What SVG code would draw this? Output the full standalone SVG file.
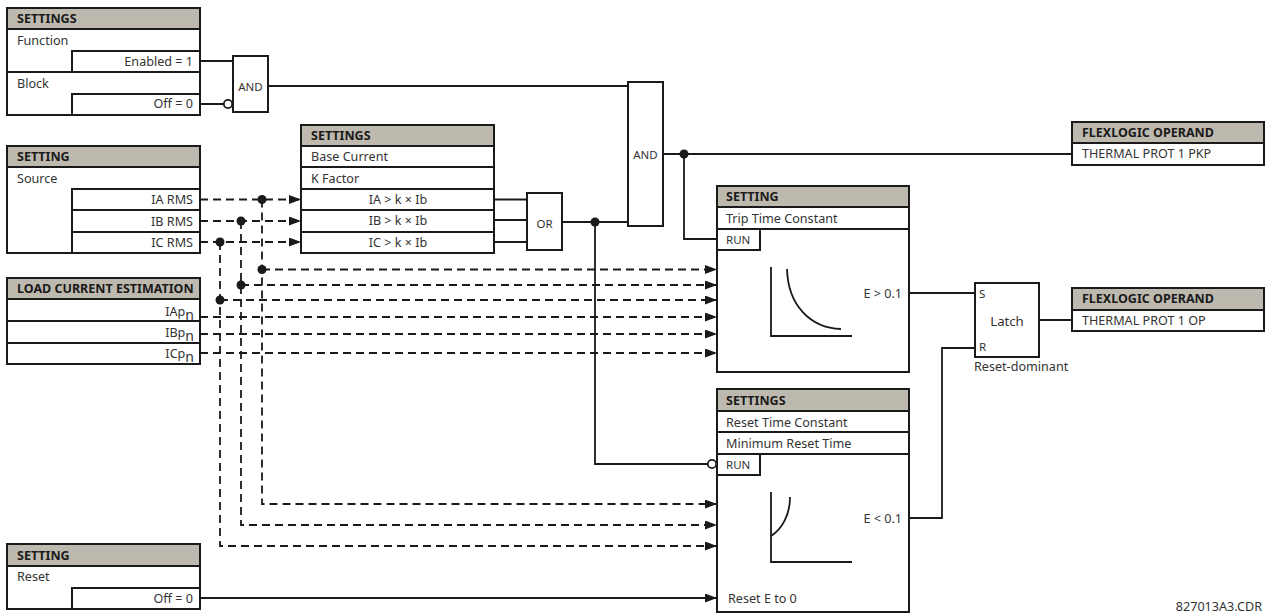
<svg xmlns="http://www.w3.org/2000/svg" width="1265" height="615" viewBox="0 0 1265 615">
<style>
text{font-family:"Noto Sans","Open Sans",sans-serif;font-size:12.600px;fill:#333}
.h{font-weight:700;fill:#1a1a1a;font-size:12.500px}
.e{text-anchor:end}
.m{text-anchor:middle}
.g{font-size:11.500px}
.l{font-size:13.200px}
.hd{fill:#bdb9ae;stroke:#1a1a1a;stroke-width:2}
.b{fill:#fff;stroke:#1a1a1a;stroke-width:2}
.t{fill:none;stroke:#1a1a1a;stroke-width:2}
.w{fill:none;stroke:#1a1a1a;stroke-width:1.800}
.d{fill:none;stroke:#1a1a1a;stroke-width:1.800;stroke-dasharray:8 5}
.dot{fill:#1a1a1a}
.inv{fill:#fff;stroke:#1a1a1a;stroke-width:1.800}
</style>
<defs>
<marker id="a" markerUnits="userSpaceOnUse" markerWidth="13" markerHeight="10" refX="12" refY="4.500" orient="auto"><path d="M0 0L12 4.500L0 9Z" fill="#1a1a1a"/></marker>
</defs>
<rect width="1265" height="615" fill="#fff"/>
<g id="connectors">
<path class="w" d="M200 61H233M200 104H224M268 86H628"/>
<path class="w" d="M494 199.500H527M494 220H527M494 242H527M562 222H628"/>
<path class="w" d="M595 222V464H708"/>
<path class="w" d="M663 154H1072M684 154V239H717"/>
<path class="w" d="M909 293H975M909 518H942V348H975M1039 320H1072"/>
<path class="w" marker-end="url(#a)" d="M200 598H717"/>
<path class="d" marker-end="url(#a)" d="M200 199.500H301"/>
<path class="d" marker-end="url(#a)" d="M200 221H301"/>
<path class="d" marker-end="url(#a)" d="M200 242H301"/>
<path class="d" marker-end="url(#a)" d="M262 269.500H717"/>
<path class="d" marker-end="url(#a)" d="M241 285H717"/>
<path class="d" marker-end="url(#a)" d="M220 300H717"/>
<path class="d" marker-end="url(#a)" d="M200 317H717"/>
<path class="d" marker-end="url(#a)" d="M200 334H717"/>
<path class="d" marker-end="url(#a)" d="M200 353H717"/>
<path class="d" marker-end="url(#a)" d="M262 199.500V504H717"/>
<path class="d" marker-end="url(#a)" d="M241 221V525H717"/>
<path class="d" marker-end="url(#a)" d="M220 242V546H717"/>
<circle class="dot" cx="262" cy="199.500" r="4.500"/>
<circle class="dot" cx="241" cy="221" r="4.500"/>
<circle class="dot" cx="220" cy="242" r="4.500"/>
<circle class="dot" cx="262" cy="269.500" r="4.500"/>
<circle class="dot" cx="241" cy="285" r="4.500"/>
<circle class="dot" cx="220" cy="300" r="4.500"/>
<circle class="dot" cx="595" cy="222" r="4.500"/>
<circle class="dot" cx="684" cy="154" r="4.500"/>
<circle class="inv" cx="228" cy="104" r="4.200"/>
<circle class="inv" cx="712" cy="464" r="4.200"/>
</g>
<g id="settings-function">
<rect class="b" x="7" y="8" width="193" height="107"/>
<rect class="hd" x="7" y="8" width="193" height="21"/>
<path class="t" d="M7 72H200"/>
<rect class="b" x="72" y="51" width="128" height="21"/>
<rect class="b" x="72" y="94" width="128" height="21"/>
<text class="h" x="17" y="23">SETTINGS</text>
<text x="17" y="45">Function</text>
<text class="e" x="193" y="66">Enabled = 1</text>
<text x="17" y="88">Block</text>
<text class="e" x="193" y="108">Off = 0</text>
</g>
<g id="and1">
<rect class="b" x="233" y="56" width="35" height="56"/>
<text class="m g" x="250.500" y="91">AND</text>
</g>
<g id="setting-source">
<rect class="b" x="7" y="146" width="193" height="107"/>
<rect class="hd" x="7" y="146" width="193" height="21"/>
<rect class="b" x="72" y="189" width="128" height="21"/>
<rect class="b" x="72" y="210" width="128" height="22"/>
<rect class="b" x="72" y="232" width="128" height="21"/>
<text class="h" x="17" y="161">SETTING</text>
<text x="17" y="183">Source</text>
<text class="e" x="193" y="204">IA RMS</text>
<text class="e" x="193" y="226">IB RMS</text>
<text class="e" x="193" y="247">IC RMS</text>
</g>
<g id="load-current">
<rect class="hd" x="7" y="278" width="193" height="21"/>
<rect class="b" x="7" y="299" width="193" height="22"/>
<rect class="b" x="7" y="321" width="193" height="22"/>
<rect class="b" x="7" y="343" width="193" height="21"/>
<text class="h" x="17" y="293">LOAD CURRENT ESTIMATION</text>
<text class="e" x="194" y="316">IAp<tspan font-size="14" dy="4">n</tspan></text>
<text class="e" x="194" y="337">IBp<tspan font-size="14" dy="4">n</tspan></text>
<text class="e" x="194" y="358">ICp<tspan font-size="14" dy="4">n</tspan></text>
</g>
<g id="settings-k">
<rect class="hd" x="301" y="125" width="193" height="21"/>
<rect class="b" x="301" y="146" width="193" height="21"/>
<rect class="b" x="301" y="167" width="193" height="22"/>
<rect class="b" x="301" y="189" width="193" height="21"/>
<rect class="b" x="301" y="210" width="193" height="22"/>
<rect class="b" x="301" y="232" width="193" height="21"/>
<text class="h" x="311" y="140">SETTINGS</text>
<text x="311" y="161">Base Current</text>
<text x="311" y="183">K Factor</text>
<text class="m" x="398" y="204">IA &gt; k × Ib</text>
<text class="m" x="398" y="225">IB &gt; k × Ib</text>
<text class="m" x="398" y="247">IC &gt; k × Ib</text>
</g>
<g id="or">
<rect class="b" x="527" y="193" width="35" height="57"/>
<text class="m g" x="544.500" y="228">OR</text>
</g>
<g id="and2">
<rect class="b" x="628" y="82" width="35" height="144"/>
<text class="m g" x="645.500" y="159">AND</text>
</g>
<g id="setting-trip">
<rect class="b" x="717" y="186" width="192" height="186"/>
<rect class="hd" x="717" y="186" width="192" height="21"/>
<rect class="b" x="717" y="207" width="192" height="22"/>
<rect class="b" x="717" y="229" width="43" height="21"/>
<text class="h" x="726" y="201">SETTING</text>
<text x="726" y="223">Trip Time Constant</text>
<text class="g" x="726" y="244">RUN</text>
<path class="w" d="M771 267V336H852"/>
<path class="w" d="M787 269C788 305 810 328 841 329"/>
<text class="e" x="902" y="298">E &gt; 0.1</text>
</g>
<g id="settings-reset">
<rect class="b" x="717" y="389" width="192" height="223"/>
<rect class="hd" x="717" y="389" width="192" height="22"/>
<rect class="b" x="717" y="411" width="192" height="21"/>
<rect class="b" x="717" y="432" width="192" height="22"/>
<rect class="b" x="717" y="454" width="43" height="21"/>
<text class="h" x="726" y="405">SETTINGS</text>
<text x="726" y="427">Reset Time Constant</text>
<text x="726" y="448">Minimum Reset Time</text>
<text class="g" x="726" y="469">RUN</text>
<path class="w" d="M771 492V562H852"/>
<path class="w" d="M771 536C782 529 790 515 790 497"/>
<text class="e" x="902" y="523">E &lt; 0.1</text>
<text x="728" y="603">Reset E to 0</text>
</g>
<g id="latch">
<rect class="b" x="975" y="283" width="64" height="74"/>
<text class="g" x="979" y="298">S</text>
<text class="g" x="979" y="351">R</text>
<text class="m l" x="1007" y="326">Latch</text>
<text x="974" y="371">Reset-dominant</text>
</g>
<g id="operand-pkp">
<rect class="hd" x="1072" y="122" width="192" height="21"/>
<rect class="b" x="1072" y="143" width="192" height="22"/>
<text class="h" x="1082" y="137">FLEXLOGIC OPERAND</text>
<text x="1082" y="158">THERMAL PROT 1 PKP</text>
</g>
<g id="operand-op">
<rect class="hd" x="1072" y="288" width="192" height="22"/>
<rect class="b" x="1072" y="310" width="192" height="21"/>
<text class="h" x="1082" y="303">FLEXLOGIC OPERAND</text>
<text x="1082" y="325">THERMAL PROT 1 OP</text>
</g>
<g id="setting-reset">
<rect class="b" x="7" y="544" width="193" height="65"/>
<rect class="hd" x="7" y="544" width="193" height="22"/>
<rect class="b" x="72" y="588" width="128" height="21"/>
<text class="h" x="17" y="560">SETTING</text>
<text x="17" y="581">Reset</text>
<text class="e" x="193" y="603">Off = 0</text>
</g>
<text class="e" x="1262" y="611">827013A3.CDR</text>
</svg>
